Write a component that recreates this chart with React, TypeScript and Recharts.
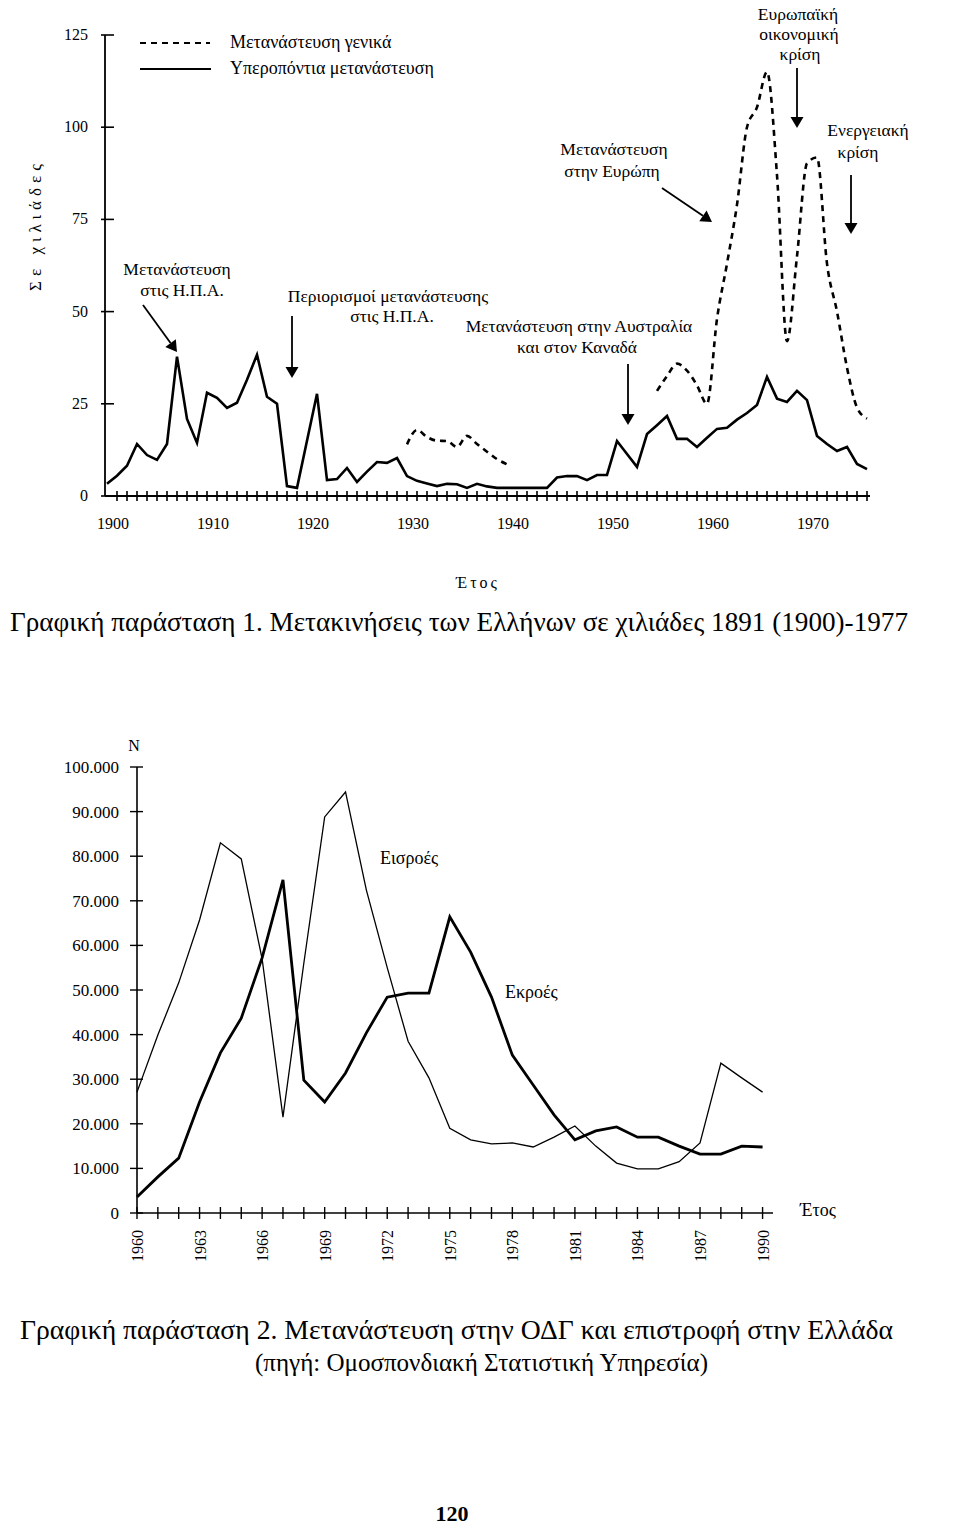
import React from 'react';
import { LineChart, Line, XAxis, YAxis } from 'recharts';

const FONT = '"Liberation Serif", "Times New Roman", serif';

// ---------- Chart 1 data (thousands) ----------
const years1 = [
  1899, 1900, 1901, 1902, 1903, 1904, 1905, 1906, 1907, 1908, 1909,
  1910, 1911, 1912, 1913, 1914, 1915, 1916, 1917, 1918, 1919,
  1920, 1921, 1922, 1923, 1924, 1925, 1926, 1927, 1928, 1929,
  1930, 1931, 1932, 1933, 1934, 1935, 1936, 1937, 1938, 1939,
  1940, 1941, 1942, 1943, 1944, 1945, 1946, 1947, 1948, 1949,
  1950, 1951, 1952, 1953, 1954, 1955, 1956, 1957, 1958, 1959,
  1960, 1961, 1962, 1963, 1964, 1965, 1966, 1967, 1968, 1969,
  1970, 1971, 1972, 1973, 1974, 1975,
];
const overseasEmigration = [
  3.3, 5.5, 8.2, 14.1, 11.1, 9.8, 14.1, 37.8, 20.9, 14.4, 28,
  26.6, 23.9, 25.3, 31.5, 38.3, 26.9, 25, 2.7, 2.2, 15,
  27.7, 4.3, 4.6, 7.6, 3.8, 6.6, 9.2, 9.0, 10.3, 5.4,
  4.1, 3.4, 2.7, 3.3, 3.2, 2.2, 3.3, 2.6, 2.2, 2.2,
  2.2, 2.2, 2.2, 2.2, 5.0, 5.4, 5.4, 4.3, 5.7, 5.7,
  14.9, 11.4, 7.9, 16.8, 19.2, 21.7, 15.5, 15.5, 13.3, 15.8,
  18.2, 18.5, 20.7, 22.5, 24.7, 32.3, 26.4, 25.5, 28.5, 26,
  16.3, 14.1, 12.2, 13.3, 8.7, 7.3,
];
const generalEmigration: (number | null)[] = [
  null, null, null, null, null, null, null, null, null, null, null,
  null, null, null, null, null, null, null, null, null, null,
  null, null, null, null, null, null, null, null, null, 14,
  17.9, 16, 15, 14.9, 13.3, 16.3, 14.1, 12, 10, 8.6,
  null, null, null, null, null, null, null, null, null, null,
  null, null, null, null, 28.5, 32.5, 35.9, 34, 30, 25,
  48, 63, 79, 100, 105.4, 115, 87, 42, 65, 90.2,
  91.8, 63, 50, 34.8, 24, 21,
];
const yTicks1 = [0, 25, 50, 75, 100, 125];
const xTicks1 = Array.from({ length: 76 }, (_, i) => 1900 + i);

// ---------- Chart 2 data ----------
const years2 = [
  1960, 1961, 1962, 1963, 1964, 1965, 1966, 1967, 1968, 1969,
  1970, 1971, 1972, 1973, 1974, 1975, 1976, 1977, 1978, 1979,
  1980, 1981, 1982, 1983, 1984, 1985, 1986, 1987, 1988, 1989, 1990,
];
const inflows = [
  27100, 39900, 51600, 65700, 83000, 79400, 57000, 21500, 56000, 88800,
  94400, 72400, 55000, 38500, 30300, 19000, 16400, 15500, 15700, 14800,
  17000, 19500, 15000, 11200, 9900, 9900, 11500, 15700, 33600, 30300, 27100,
];
const outflows = [
  3600, 8100, 12300, 24900, 35900, 43700, 57200, 74700, 29800, 24900,
  31400, 40400, 48400, 49300, 49300, 66400, 58500, 48400, 35400, 28700,
  22000, 16400, 18400, 19300, 17000, 17000, 15000, 13200, 13200, 15000, 14800,
];
const yTicks2 = [0, 10000, 20000, 30000, 40000, 50000, 60000, 70000, 80000, 90000, 100000];
const xTicks2 = years2;

const data1 = years1.map((y, i) => ({ year: y, overseas: overseasEmigration[i], general: generalEmigration[i] }));
const data2 = years2.map((y, i) => ({ year: y, inflows: inflows[i], outflows: outflows[i] }));

const fmtDot = (v: number) => (v === 0 ? '0' : v.toLocaleString('en-US').replace(/,/g, '.'));

const XTick1 = (props: any) => {
  const { x, y, payload } = props;
  const v = payload.value as number;
  return (
    <g>
      <line x1={x} x2={x} y1={y - 5} y2={y + 5} stroke="#000" strokeWidth={1.6} />
      {v % 10 === 0 && (
        <text x={x - 4} y={y + 33} textAnchor="middle" fontSize={16} fontFamily={FONT} fill="#000">
          {v}
        </text>
      )}
    </g>
  );
};

const YTick1 = (props: any) => {
  const { x, y, payload } = props;
  return (
    <g>
      <line x1={x - 4} x2={x + 9} y1={y} y2={y} stroke="#000" strokeWidth={1.6} />
      <text x={x - 17} y={y + 5} textAnchor="end" fontSize={16} fontFamily={FONT} fill="#000">
        {payload.value}
      </text>
    </g>
  );
};

const XTick2 = (props: any) => {
  const { x, y, payload } = props;
  const v = payload.value as number;
  return (
    <g>
      <line x1={x} x2={x} y1={y - 6} y2={y + 6} stroke="#000" strokeWidth={1.4} />
      {(v - 1960) % 3 === 0 && (
        <text
          x={x + 6}
          y={y + 17}
          transform={`rotate(-90 ${x + 6} ${y + 17})`}
          textAnchor="end"
          fontSize={16}
          fontFamily={FONT}
          fill="#000"
        >
          {v}
        </text>
      )}
    </g>
  );
};

const YTick2 = (props: any) => {
  const { x, y, payload } = props;
  return (
    <g>
      <line x1={x - 7} x2={x + 6} y1={y} y2={y} stroke="#000" strokeWidth={1.4} />
      <text x={x - 18} y={y + 6} textAnchor="end" fontSize={17} fontFamily={FONT} fill="#000">
        {fmtDot(payload.value)}
      </text>
    </g>
  );
};

const Arrow = ({ x1, y1, x2, y2 }: { x1: number; y1: number; x2: number; y2: number }) => {
  const dx = x2 - x1;
  const dy = y2 - y1;
  const len = Math.sqrt(dx * dx + dy * dy);
  const ux = dx / len;
  const uy = dy / len;
  const hl = 11;
  const hw = 6.5;
  const bx = x2 - ux * hl;
  const by = y2 - uy * hl;
  const nx = -uy;
  const ny = ux;
  return (
    <g>
      <line x1={x1} y1={y1} x2={bx} y2={by} stroke="#000" strokeWidth={1.8} />
      <polygon
        points={`${x2},${y2} ${bx + nx * hw},${by + ny * hw} ${bx - nx * hw},${by - ny * hw}`}
        fill="#000"
      />
    </g>
  );
};

const T = ({ x, y, children, size = 17.5, anchor = 'middle', spacing, weight, len }: any) => (
  <text
    x={x}
    y={y}
    textAnchor={anchor}
    fontSize={size}
    fontFamily={FONT}
    fill="#000"
    letterSpacing={spacing}
    fontWeight={weight}
    textLength={len}
    lengthAdjust={len ? 'spacingAndGlyphs' : undefined}
  >
    {children}
  </text>
);

export default function App() {
  return (
    <div style={{ position: 'absolute', left: 0, top: 0, width: 960, height: 1526, background: '#fff' }}>
      <div style={{ position: 'absolute', left: 0, top: 0 }}>
        <LineChart
          width={960}
          height={600}
          data={data1}
          margin={{ top: 35, right: 90, bottom: 74, left: 45 }}
        >
          <XAxis
            dataKey="year"
            type="number"
            domain={[1898.8, 1975.3]}
            ticks={xTicks1}
            interval={0}
            tick={<XTick1 />}
            tickLine={false}
            tickSize={0}
            tickMargin={0}
            height={30}
            axisLine={{ stroke: '#000', strokeWidth: 1.8 }}
            allowDataOverflow
          />
          <YAxis
            type="number"
            domain={[0, 125]}
            ticks={yTicks1}
            interval={0}
            tick={<YTick1 />}
            tickLine={false}
            tickSize={0}
            tickMargin={0}
            width={60}
            axisLine={{ stroke: '#000', strokeWidth: 1.8 }}
          />
          <Line
            type="linear"
            dataKey="overseas"
            stroke="#000"
            strokeWidth={2.6}
            dot={false}
            isAnimationActive={false}
          />
          <Line
            type="monotone"
            dataKey="general"
            stroke="#000"
            strokeWidth={2.6}
            strokeDasharray="6 5"
            dot={false}
            connectNulls={false}
            isAnimationActive={false}
          />
        </LineChart>
      </div>

      <div style={{ position: 'absolute', left: 0, top: 700 }}>
        <LineChart
          width={960}
          height={600}
          data={data2}
          margin={{ top: 67, right: 187, bottom: 57, left: 77 }}
        >
          <XAxis
            dataKey="year"
            type="number"
            domain={[1960, 1990.5]}
            ticks={xTicks2}
            interval={0}
            tick={<XTick2 />}
            tickLine={false}
            tickSize={0}
            tickMargin={0}
            height={30}
            axisLine={{ stroke: '#000', strokeWidth: 1.6 }}
          />
          <YAxis
            type="number"
            domain={[0, 100000]}
            ticks={yTicks2}
            interval={0}
            tick={<YTick2 />}
            tickLine={false}
            tickSize={0}
            tickMargin={0}
            width={60}
            axisLine={{ stroke: '#000', strokeWidth: 1.6 }}
          />
          <Line
            type="linear"
            dataKey="inflows"
            stroke="#000"
            strokeWidth={1.3}
            dot={false}
            isAnimationActive={false}
          />
          <Line
            type="linear"
            dataKey="outflows"
            stroke="#000"
            strokeWidth={2.8}
            dot={false}
            isAnimationActive={false}
          />
        </LineChart>
      </div>

      <svg
        width={960}
        height={1526}
        style={{ position: 'absolute', left: 0, top: 0, pointerEvents: 'none' }}
      >
        {/* Chart 1 legend */}
        <line x1={140} x2={210} y1={43} y2={43} stroke="#000" strokeWidth={2.2} strokeDasharray="6 5" />
        <line x1={140} x2={211} y1={69} y2={69} stroke="#000" strokeWidth={2.2} />
        <T x={230} y={48} size={18} anchor="start">Μετανάστευση γενικά</T>
        <T x={230} y={74} size={18} anchor="start">Υπεροπόντια μετανάστευση</T>

        {/* Y label */}
        <text
          x={37}
          y={225}
          transform="rotate(-90 37 225)"
          textAnchor="middle"
          fontSize={17}
          fontFamily={FONT}
          letterSpacing={5}
          dominantBaseline="middle"
        >
          Σε χιλιάδες
        </text>

        {/* Annotations chart 1 */}
        <T x={177} y={275}>Μετανάστευση</T>
        <T x={182} y={296}>στις Η.Π.Α.</T>
        <Arrow x1={143} y1={305} x2={177} y2={352} />

        <T x={388} y={302}>Περιορισμοί μετανάστευσης</T>
        <T x={392} y={322}>στις Η.Π.Α.</T>
        <Arrow x1={292} y1={316} x2={292} y2={378} />

        <T x={579} y={332}>Μετανάστευση στην Αυστραλία</T>
        <T x={577} y={353}>και στον Καναδά</T>
        <Arrow x1={628} y1={364} x2={628} y2={425} />

        <T x={614} y={155}>Μετανάστευση</T>
        <T x={612} y={177}>στην Ευρώπη</T>
        <Arrow x1={662} y1={188} x2={712} y2={222} />

        <T x={798} y={20}>Ευρωπαϊκή</T>
        <T x={799} y={40}>οικονομική</T>
        <T x={800} y={60}>κρίση</T>
        <Arrow x1={797} y1={68} x2={797} y2={128} />

        <T x={868} y={136}>Ενεργειακή</T>
        <T x={858} y={158}>κρίση</T>
        <Arrow x1={851} y1={175} x2={851} y2={234} />

        <T x={478} y={588} size={16} spacing={3}>Έτος</T>

        <T x={10} y={631} size={27} anchor="start" len={898}>
          Γραφική παράσταση 1. Μετακινήσεις των Ελλήνων σε χιλιάδες 1891 (1900)-1977
        </T>

        {/* Chart 2 labels */}
        <T x={134} y={751} size={16}>N</T>
        <T x={380} y={864} size={18} anchor="start">Εισροές</T>
        <T x={505} y={998} size={18} anchor="start">Εκροές</T>
        <T x={800} y={1216} size={18} anchor="start">Έτος</T>

        <T x={20} y={1339} size={27} anchor="start" len={873}>
          Γραφική παράσταση 2. Μετανάστευση στην ΟΔΓ και επιστροφή στην Ελλάδα
        </T>
        <T x={255} y={1371} size={26} anchor="start" len={453}>
          (πηγή: Ομοσπονδιακή Στατιστική Υπηρεσία)
        </T>

        <T x={452} y={1521} size={22} weight="bold">120</T>
      </svg>
    </div>
  );
}
